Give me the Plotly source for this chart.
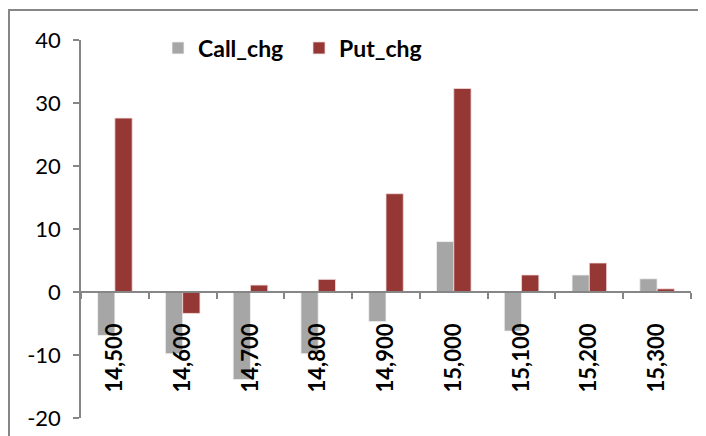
import plotly.graph_objects as go

strikes = ["14,500", "14,600", "14,700", "14,800", "14,900", "15,000", "15,100", "15,200", "15,300"]
call_chg = [-6.9, -9.8, -13.9, -9.8, -4.7, 8.0, -6.2, 2.7, 2.1]
put_chg = [27.6, -3.4, 1.1, 2.0, 15.6, 32.3, 2.7, 4.6, 0.5]
y_ticks = [-20, -10, 0, 10, 20, 30, 40]
y_tick_text = ["-20", "-10", "0", "10", "20", "30", "40"]

FONT = "Lato"
# page body has an 8px default margin; figure is sized to fill the rest of the 706x436 window
W, H = 698, 428
L, T = 73, 32
PW, PH = 610, 378

fig = go.Figure()
fig.add_trace(go.Bar(x=strikes, y=call_chg, name="Call_chg",
                     marker=dict(color="#A6A6A6", line=dict(color="#F2F2F2", width=0.8))))
fig.add_trace(go.Bar(x=strikes, y=put_chg, name="Put_chg",
                     marker=dict(color="#953735", line=dict(color="#F2DCDB", width=0.8))))

fig.update_layout(
    width=W, height=H,
    margin=dict(l=L, r=W - L - PW, t=T, b=H - T - PH, autoexpand=False),
    paper_bgcolor="white", plot_bgcolor="white",
    barmode="group", bargap=0.49, bargroupgap=0,
    font=dict(family=FONT, color="black"),
    showlegend=True,
    legend=dict(orientation="h",
                x=(158 - 81) / PW, y=(418 - 48) / PH, xanchor="left", yanchor="middle",
                font=dict(family=FONT, size=23, weight="bold"),
                bgcolor="rgba(0,0,0,0)", itemwidth=30, traceorder="normal",
                entrywidth=96, entrywidthmode="pixels"),
    xaxis=dict(type="category", anchor="free", position=1/3, automargin=False,
               showline=True, linecolor="#868686", linewidth=1.5,
               ticks="outside", ticklen=6, tickcolor="#868686", tickwidth=1.5,
               tickson="boundaries", tickangle=-90, ticklabelstandoff=22,
               tickfont=dict(family=FONT, size=22, weight="bold"),
               showgrid=False, zeroline=False),
    yaxis=dict(range=[-20, 40], tickmode="array", tickvals=y_ticks, ticktext=y_tick_text,
               automargin=False, ticklabeloverflow="allow",
               showline=True, linecolor="#868686", linewidth=1.5,
               ticks="outside", ticklen=6, tickcolor="#868686", tickwidth=1.5,
               ticklabelstandoff=8, tickfont=dict(family=FONT, size=22),
               showgrid=False, zeroline=False),
    shapes=[dict(type="rect", xref="paper", yref="paper",
                 x0=(1 - L) / PW, x1=(720 - L) / PW,
                 y0=(T + PH - 460) / PH, y1=(T + PH - 2) / PH,
                 line=dict(color="#868686", width=2), layer="below")],
)

fig.write_html("out.html")
